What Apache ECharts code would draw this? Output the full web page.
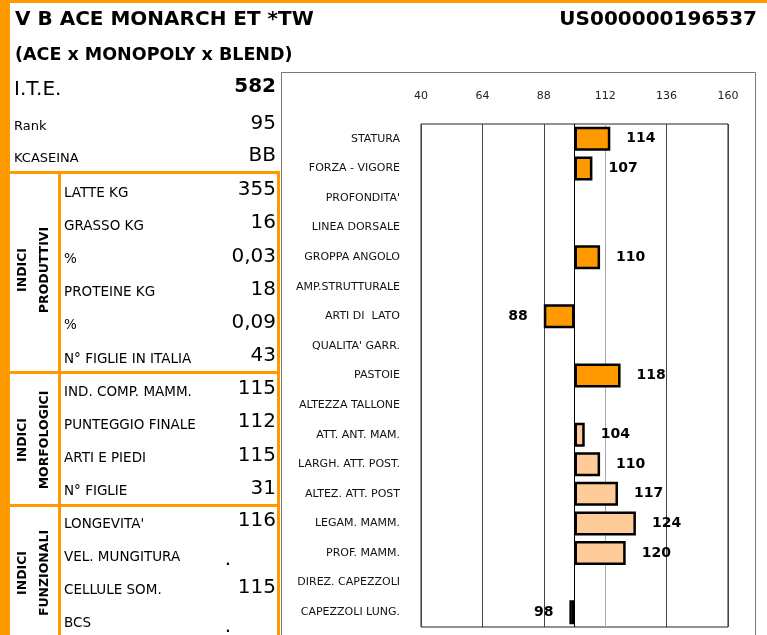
<!DOCTYPE html>
<html>
<head>
<meta charset="UTF-8">
<title>V B ACE MONARCH ET *TW</title>
<script src="https://cdn.jsdelivr.net/npm/echarts@6/dist/echarts.min.js"></script>
<style>
    html, body { margin: 0; padding: 0; background: #fff; }
    #scheda { width: 767px; height: 635px; }
</style>
</head>
<body>
<div id="scheda"></div>
<script type="text/javascript">
    // intestazione
    var titolo = 'V B ACE MONARCH ET *TW';
    var matricola = 'US000000196537';
    var pedigree = '(ACE x MONOPOLY x BLEND)';

    // tabella a sinistra
    var topLabels = ['I.T.E.', 'Rank', 'KCASEINA'];
    var topValues = ['582', '95', 'BB'];
    var prodLabels = ['LATTE KG', 'GRASSO KG', '%', 'PROTEINE KG', '%', 'N° FIGLIE IN ITALIA'];
    var prodValues = ['355', '16', '0,03', '18', '0,09', '43'];
    var morfLabels = ['IND. COMP. MAMM.', 'PUNTEGGIO FINALE', 'ARTI E PIEDI', 'N° FIGLIE'];
    var morfValues = ['115', '112', '115', '31'];
    var funzLabels = ['LONGEVITA\'', 'VEL. MUNGITURA', 'CELLULE SOM.', 'BCS'];
    var funzValues = ['116', '.', '115', '.'];

    // grafico morfologico
    var caratteri = ['STATURA', 'FORZA - VIGORE', 'PROFONDITA\'', 'LINEA DORSALE', 'GROPPA ANGOLO',
        'AMP.STRUTTURALE', 'ARTI DI  LATO', 'QUALITA\' GARR.', 'PASTOIE', 'ALTEZZA TALLONE',
        'ATT. ANT. MAM.', 'LARGH. ATT. POST.', 'ALTEZ. ATT. POST', 'LEGAM. MAMM.', 'PROF. MAMM.',
        'DIREZ. CAPEZZOLI', 'CAPEZZOLI LUNG.'];
    var valori = [114, 107, null, null, 110, null, 88, null, 118, null, 104, 110, 117, 124, 120, null, 98];
    var mammella = [0, 0, 0, 0, 0, 0, 0, 0, 0, 0, 1, 1, 1, 1, 1, 1, 1];
    var tickLabels = [40, 64, 88, 112, 136, 160];
    var media = 100;

    var arancio = '#FF9900';
    var arancioChiaro = '#FFCC99';
    var ff = '"DejaVu Sans", sans-serif';

    var elementi = [];

    function rett(x, y, w, h, fill) {
        elementi.push({type: 'rect', silent: true, shape: {x: x, y: y, width: w, height: h}, style: {fill: fill}});
    }

    function testo(t, x, y, font, align, rot) {
        elementi.push({
            type: 'text', silent: true, x: x, y: y, rotation: rot || 0,
            style: {
                text: t, font: font, fill: '#000',
                align: align, verticalAlign: 'middle',
                textAlign: align, textVerticalAlign: 'middle'
            }
        });
    }

    // cornice del grafico
    elementi.push({
        type: 'rect', silent: true,
        shape: {x: 281.5, y: 72.5, width: 474, height: 600},
        style: {fill: 'none', stroke: '#777', lineWidth: 1}
    });

    // bordi arancioni
    rett(0, 0, 767, 3, arancio);
    rett(0, 0, 10, 635, arancio);
    [171, 371, 504].forEach(function (y) {
        rett(0, y, 280, 3, arancio);
    });
    rett(58, 171, 3, 464, arancio);
    rett(277, 171, 3, 464, arancio);

    // titoli
    testo(titolo, 15, 20, 'bold 20px ' + ff, 'left');
    testo(matricola, 757, 20, 'bold 20px ' + ff, 'right');
    testo(pedigree, 15, 55, 'bold 17.5px ' + ff, 'left');

    // prima sezione
    var topY = [89, 126, 158];
    topLabels.forEach(function (l, i) {
        testo(l, 14, topY[i] + 1, (i === 0 ? '20px ' : '13px ') + ff, 'left');
        testo(topValues[i], 276, topY[i] - 2, (i === 0 ? 'bold 20px ' : '20px ') + ff, 'right');
    });

    function sezione(labels, values, y0, nome, yc) {
        labels.forEach(function (l, i) {
            var y = y0 + i * 33.2;
            testo(l, 64, y, '13.5px ' + ff, 'left');
            if (values[i] === '.') {
                testo('.', 228, y + 3, '20px ' + ff, 'center');
            } else {
                testo(values[i], 276, y - 3, '20px ' + ff, 'right');
            }
        });
        testo('INDICI', 23, yc, 'bold 12.5px ' + ff, 'center', Math.PI / 2);
        testo(nome, 45, yc, 'bold 12.5px ' + ff, 'center', Math.PI / 2);
    }

    sezione(prodLabels, prodValues, 193, 'PRODUTTIVI', 270);
    sezione(morfLabels, morfValues, 392, 'MORFOLOGICI', 440);
    sezione(funzLabels, funzValues, 524, 'FUNZIONALI', 573);

    // linee verticali della griglia: solo ai valori etichettati
    var coloriGriglia = [];
    for (var v = -60; v <= 60; v += 12) {
        var t = v + media;
        if (tickLabels.indexOf(t) < 0) {
            coloriGriglia.push('rgba(0,0,0,0)');
        } else {
            coloriGriglia.push(t === 112 ? '#aaa' : '#444');
        }
    }

    var myChart = echarts.init(document.getElementById('scheda'));

    myChart.setOption({
        animation: false,
        backgroundColor: '#fff',
        graphic: elementi,
        grid: {
            left: 421, right: 39, top: 124, bottom: 8,
            show: true, backgroundColor: '#fff', borderColor: '#222', borderWidth: 1
        },
        xAxis: {
            type: 'value', position: 'top',
            min: -60, max: 60, interval: 12,
            axisLine: {show: false},
            axisTick: {show: false},
            splitLine: {show: true, lineStyle: {color: coloriGriglia, width: 1}},
            axisLabel: {
                margin: 22, fontSize: 11, fontFamily: ff, color: '#222',
                formatter: function (val) {
                    return tickLabels.indexOf(val + media) >= 0 ? String(val + media) : '';
                }
            }
        },
        yAxis: {
            type: 'category', inverse: true,
            data: caratteri,
            axisLine: {show: false},
            axisTick: {show: false},
            splitLine: {show: false},
            axisLabel: {margin: 21, fontSize: 11, fontFamily: ff, color: '#111'}
        },
        series: [{
            type: 'bar',
            barWidth: 24,
            data: valori.map(function (val, i) {
                if (val === null) return '-';
                return {
                    value: val - media,
                    itemStyle: {color: mammella[i] ? arancioChiaro : arancio},
                    label: {position: val >= media ? 'right' : 'left'}
                };
            }),
            itemStyle: {borderColor: '#000', borderWidth: 2.5},
            label: {
                show: true, distance: 16,
                fontWeight: 'bold', fontSize: 14, fontFamily: ff, color: '#000',
                formatter: function (p) {
                    return String(valori[p.dataIndex]);
                }
            },
            markLine: {
                silent: true, symbol: 'none',
                label: {show: false},
                lineStyle: {color: '#000', width: 1, type: 'solid'},
                data: [{xAxis: 0}]
            }
        }]
    });
</script>
</body>
</html>
